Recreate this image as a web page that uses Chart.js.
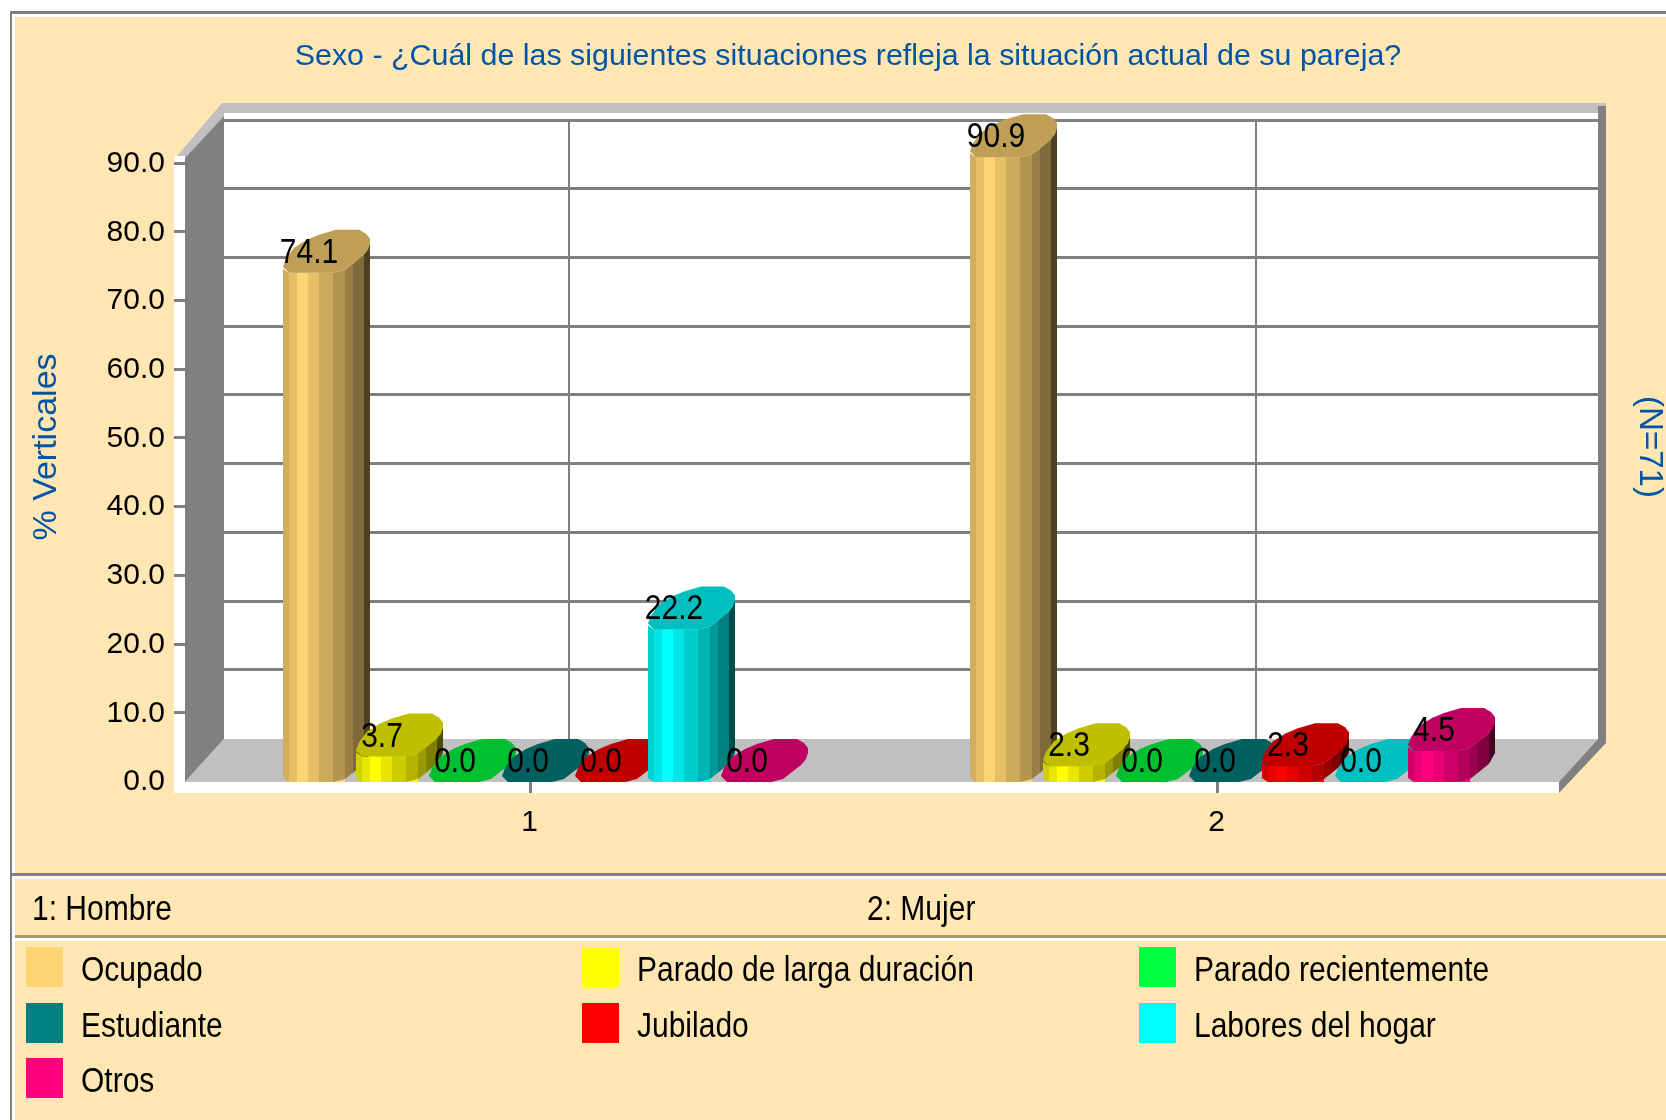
<!DOCTYPE html>
<html><head><meta charset="utf-8">
<style>
html,body{margin:0;padding:0;background:#fff;width:1666px;height:1120px;overflow:hidden}
div{position:absolute}
#wrap{left:0;top:0;width:1666px;height:1120px;font-family:"Liberation Sans",Arial,sans-serif;font-size:30px;color:#000}
canvas{position:absolute;left:0;top:0}
.t{white-space:nowrap;line-height:40px;transform:scaleY(1.15);transform-origin:left center}
</style></head><body>
<div id="wrap">
<div style="left:10px;top:11px;width:1656px;height:3px;background:#808080"></div>
<div style="left:10px;top:11px;width:2px;height:1109px;background:#808080"></div>
<div style="left:15px;top:17px;width:1651px;height:1103px;background:#ffe6b3"></div>
<div style="left:12px;top:873px;width:1654px;height:3px;background:#808080"></div>
<div style="left:15px;top:876px;width:1651px;height:3px;background:#fff"></div>
<div style="left:15px;top:935px;width:1651px;height:3px;background:#a89a76"></div>
<div style="left:15px;top:938px;width:1651px;height:3px;background:#fff"></div>
<canvas id="c" width="1666" height="1120"></canvas>
</div>
<script src="https://cdn.jsdelivr.net/npm/chart.js@4/dist/chart.umd.min.js"></script>
<script>
const titleText = "Sexo - ¿Cuál de las siguientes situaciones refleja la situación actual de su pareja?";
const yTitle = "% Verticales";
const rightTitle = "(N=71)";
const categories = ["1","2"];
const categoryNames = ["1: Hombre","2: Mujer"];
const seriesNames = ["Ocupado","Parado de larga duración","Parado recientemente","Estudiante","Jubilado","Labores del hogar","Otros"];
const seriesColors = ["#ffd473","#ffff00","#00ff40","#008080","#ff0000","#00ffff","#ff0080"];
const ocupado = [74.1,90.9];
const paradoLarga = [3.7,2.3];
const paradoReciente = [0.0,0.0];
const estudiante = [0.0,0.0];
const jubilado = [0.0,2.3];
const labores = [22.2,0.0];
const otros = [0.0,4.5];
const seriesValues = [ocupado,paradoLarga,paradoReciente,estudiante,jubilado,labores,otros];

const FONT = '"Liberation Sans",Arial,sans-serif';
const BLUE = "#0054a8", GRAY = "#808080", SILVER = "#c0c0c0";

// footer
const wrap = document.getElementById("wrap");
function addText(txt,x,cy){const d=document.createElement("div");d.className="t";d.textContent=txt;d.style.left=x+"px";d.style.top=(cy-20)+"px";wrap.appendChild(d);}
addText(categoryNames[0],32,908);
addText(categoryNames[1],867,908);
const colX=[26,582,1139], rowY=[947,1003,1058];
seriesNames.forEach((n,i)=>{
  const c=i%3,r=Math.floor(i/3);
  const s=document.createElement("div");
  s.style.cssText=`left:${colX[c]}px;top:${rowY[r]}px;width:37px;height:40px;background:${seriesColors[i]}`;
  wrap.appendChild(s);
  addText(n,colX[c]+55,rowY[r]+22);
});

function shade(hex,m){
  const v=parseInt(hex.slice(1),16);
  const f=s=>Math.round(((v>>s)&255)*m);
  return `rgb(${f(16)},${f(8)},${f(0)})`;
}
const EDGES=[0,6,14,25,36,50,62,70,81,87];
const MULT=[.82,.9,1,.9,.8,.7,.6,.5,.3];
const LOWER=[[0,-4],[6,0],[50,0],[62,-3],[71,-10],[80,-17],[85,-23],[87,-29]];
const CAP=[[0,-6],[6,0],[50,0],[62,-3],[71,-10],[80,-17],[85,-23],[87,-29],[87,-34],[83,-39],[76,-43],[53,-43],[36,-38],[24,-33],[11,-25],[3,-14]];
function silh(u){
  for(let i=1;i<LOWER.length;i++){
    if(u<=LOWER[i][0]){const a=LOWER[i-1],b=LOWER[i];return a[1]+(b[1]-a[1])*(u-a[0])/(b[0]-a[0]);}
  }
  return LOWER[LOWER.length-1][1];
}
function poly(ctx,pts,fill){ctx.fillStyle=fill;ctx.beginPath();pts.forEach((p,i)=>i?ctx.lineTo(p[0],p[1]):ctx.moveTo(p[0],p[1]));ctx.closePath();ctx.fill();}

const frame3d={
  id:"frame3d",
  beforeDatasetsDraw(chart){
    const ctx=chart.ctx,y=chart.scales.y,x=chart.scales.x;
    const L=185,R=1559,DX=39,DY=43,y0=y.getPixelForValue(0),bot=y0+11,top=103;
    const snap=p=>Math.floor(p-0.5)-1;
    ctx.save();
    ctx.fillStyle="#fff";ctx.fillRect(L+DX,top,R-L,y0-DY-top);
    ctx.fillStyle=GRAY;
    y.ticks.forEach(t=>{if(t.value>0)ctx.fillRect(L+DX,snap(y.getPixelForValue(t.value))-DY,R-L,3);});
    categories.forEach((c,i)=>{const p=x.getPixelForValue(i)-6.5;
      ctx.fillRect(Math.round(p+DX)-1,119,2,y0-DY-119);});
    ctx.fillStyle=SILVER;ctx.fillRect(222,top,1384,10);
    poly(ctx,[[222,top],[224,top],[224,116],[185,158],[177,156]],SILVER);
    poly(ctx,[[L,158],[L+DX,116],[L+DX,y0-DY],[L,y0]],GRAY);
    poly(ctx,[[L,y0],[L+DX,y0-DY],[R+DX,y0-DY],[R,y0]],SILVER);
    poly(ctx,[[1598,106],[1606,106],[1606,743],[1559,bot],[1559,y0],[1598,y0-DY]],GRAY);
    ctx.fillStyle="#fff";ctx.fillRect(174,156,11,bot-156);ctx.fillRect(174,y0,R-174,bot-y0);
    ctx.fillStyle=GRAY;
    y.ticks.forEach(t=>{if(t.value>0)ctx.fillRect(174,snap(y.getPixelForValue(t.value)),11,3);});
    categories.forEach((c,i)=>ctx.fillRect(Math.round(x.getPixelForValue(i)-6.5)-1,y0,3,bot-y0));
    ctx.restore();
  },
  afterDatasetsDraw(chart){
    const ctx=chart.ctx,yb=chart.scales.y.getPixelForValue(0);
    ctx.save();
    chart.data.datasets.forEach((ds,k)=>{
      const col=seriesColors[k];
      chart.getDatasetMeta(k).data.forEach(el=>{
        const x0=el.x-el.width/2-6,yv=el.y;
        if(yb-yv>0.5){
          for(let i=0;i<MULT.length;i++){
            const a=EDGES[i],b=EDGES[i+1];
            poly(ctx,[[x0+a,yv+silh(a)],[x0+b,yv+silh(b)],[x0+b,yb+silh(b)],[x0+a,yb+silh(a)]],shade(col,MULT[i]));
          }
        }
        poly(ctx,CAP.map(p=>[x0+p[0],yv+p[1]]),shade(col,.75));
      });
    });
    ctx.fillStyle="#000";ctx.font="30px "+FONT;ctx.textAlign="center";ctx.textBaseline="alphabetic";
    chart.data.datasets.forEach((ds,i)=>{
      chart.getDatasetMeta(i).data.forEach((el,j)=>{
        ctx.save();
        ctx.translate(el.x-8,el.y-10);
        ctx.scale(1,1.15);
        ctx.fillText(ds.data[j].toFixed(1),0,0);
        ctx.restore();
      });
    });
    ctx.restore();
  }
};

new Chart(document.getElementById("c"),{
  type:"bar",
  data:{labels:categories,datasets:seriesNames.map((n,i)=>({
    label:n,data:seriesValues[i],backgroundColor:seriesColors[i],
    categoryPercentage:511/687,barPercentage:56/73
  }))},
  options:{
    responsive:false,animation:false,devicePixelRatio:1,
    layout:{padding:{left:30,right:0,top:0,bottom:0}},
    plugins:{
      legend:{display:false},tooltip:{enabled:false},
      title:{display:true,text:titleText,color:BLUE,font:{family:FONT,size:30.4,weight:"normal",lineHeight:1},padding:{top:41,bottom:40.6}}
    },
    scales:{
      x:{type:"category",grid:{display:false},border:{display:false},
        ticks:{color:"#000",font:{family:FONT,size:30},padding:15,labelOffset:-6.5,maxRotation:0},
        afterFit(s){s.height=338;}},
      y:{type:"linear",position:"left",min:0,max:97.5,grid:{display:false,drawTicks:false},border:{display:false},
        ticks:{stepSize:10,color:"#000",font:{family:FONT,size:30},padding:27.5,callback:v=>Number(v).toFixed(1)},
        afterBuildTicks(s){s.ticks=s.ticks.filter(t=>t.value<=90);},
        title:{display:true,text:yTitle,color:BLUE,font:{family:FONT,size:34,lineHeight:1},padding:{top:0,bottom:0}},
        afterFit(s){s.width=162.5;}},
      y2:{type:"linear",position:"right",min:0,max:97.5,grid:{display:false,drawTicks:false},border:{display:false},
        ticks:{display:false},
        title:{display:true,text:rightTitle,color:BLUE,font:{family:FONT,size:33,lineHeight:1},padding:{top:0,bottom:0}},
        afterFit(s){s.width=99.5;}}
    }
  },
  plugins:[frame3d]
});
</script>
</body></html>
